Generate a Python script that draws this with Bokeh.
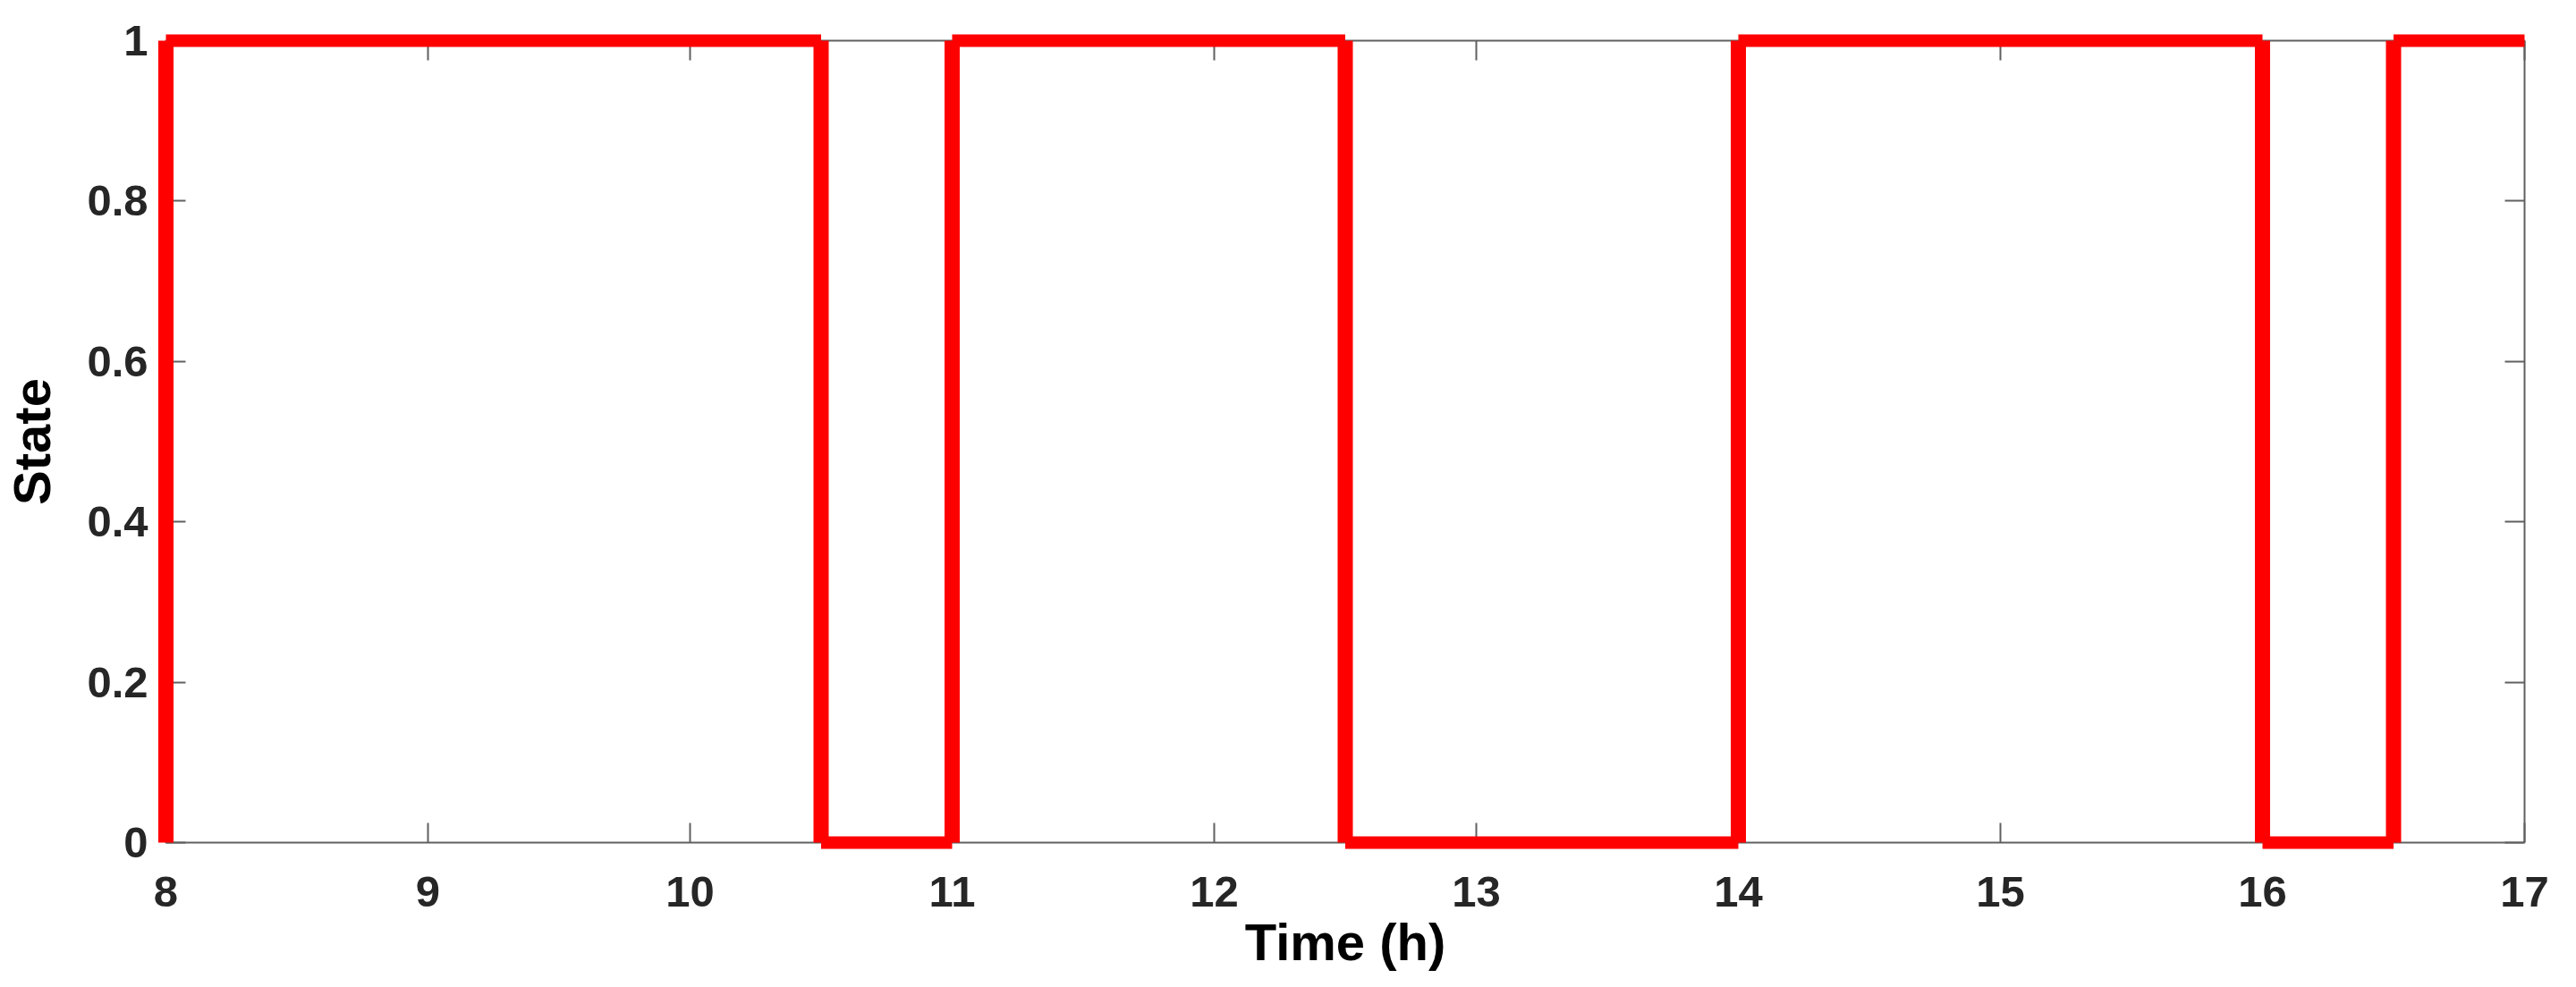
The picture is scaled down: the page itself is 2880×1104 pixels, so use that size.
from bokeh.plotting import figure
from bokeh.models import Range1d, LinearAxis, FixedTicker
from bokeh.embed import file_html
from bokeh.resources import INLINE

# ---- data ----
switch_times = [8, 10.5, 11, 12.5, 14, 16, 16.5, 17]   # hours, interval boundaries
states = [1, 0, 1, 0, 1, 0, 1]                          # state within each interval
initial_state = 0                                       # state just before 8 h
x_ticks = [8, 9, 10, 11, 12, 13, 14, 15, 16, 17]
y_ticks = [0, 0.2, 0.4, 0.6, 0.8, 1]
y_tick_labels = {0: "0", 0.2: "0.2", 0.4: "0.4", 0.6: "0.6", 0.8: "0.8", 1: "1"}

# horizontal pieces
hx0 = switch_times[:-1]
hx1 = switch_times[1:]
hy = states
# vertical pieces (transitions)
prev = [initial_state] + states[:-1]
vx = switch_times[:-1]
vy0 = prev
vy1 = states

FONT = "Liberation Sans"
AX = "#606060"

p = figure(width=2864, height=1088, x_range=Range1d(8, 17), y_range=Range1d(0, 1),
           output_backend="svg", toolbar_location=None,
           min_border_left=180, min_border_right=42, min_border_top=45, min_border_bottom=143)
p.grid.visible = False
p.outline_line_color = None
p.background_fill_color = "white"
p.border_fill_color = "white"

r1 = p.segment(x0=hx0, y0=hy, x1=hx1, y1=hy, line_color="#ff0000", line_width=14, line_cap="butt")
r2 = p.segment(x0=vx, y0=vy0, x1=vx, y1=vy1, line_color="#ff0000", line_width=17, line_cap="butt")

for ax in (p.xaxis[0], p.yaxis[0]):
    ax.axis_line_color = AX
    ax.axis_line_width = 2
    ax.major_tick_line_color = AX
    ax.major_tick_line_width = 2
    ax.major_tick_in = 22
    ax.major_tick_out = 0
    ax.minor_tick_line_color = None
    ax.major_label_text_font = FONT
    ax.major_label_text_font_style = "bold"
    ax.major_label_text_font_size = "49px"
    ax.major_label_text_color = "#262626"
    ax.axis_label_text_font = FONT
    ax.axis_label_text_font_style = "bold"
    ax.axis_label_text_font_size = "58px"
    ax.axis_label_text_color = "#000000"

p.xaxis[0].ticker = FixedTicker(ticks=x_ticks)
p.yaxis[0].ticker = FixedTicker(ticks=y_ticks)
p.yaxis[0].major_label_overrides = y_tick_labels
p.xaxis[0].axis_label = "Time (h)"
p.yaxis[0].axis_label = "State"
p.xaxis[0].major_label_standoff = 38
p.yaxis[0].major_label_standoff = 20
p.xaxis[0].axis_label_standoff = 4
p.yaxis[0].axis_label_standoff = 26

right = LinearAxis(ticker=FixedTicker(ticks=y_ticks))
top = LinearAxis(ticker=FixedTicker(ticks=x_ticks))
right.major_label_overrides = {t: "" for t in y_ticks}
top.major_label_overrides = {t: "" for t in x_ticks}
for ax in (right, top):
    ax.axis_line_color = AX
    ax.axis_line_width = 2
    ax.major_tick_line_color = AX
    ax.major_tick_line_width = 2
    ax.major_tick_in = 22
    ax.major_tick_out = 0
    ax.minor_tick_line_color = None
    ax.major_label_standoff = 0
p.add_layout(right, "right")
p.add_layout(top, "above")

for r in (r1, r2):
    r.level = "overlay"

open("out.html", "w").write(file_html(p, INLINE))
